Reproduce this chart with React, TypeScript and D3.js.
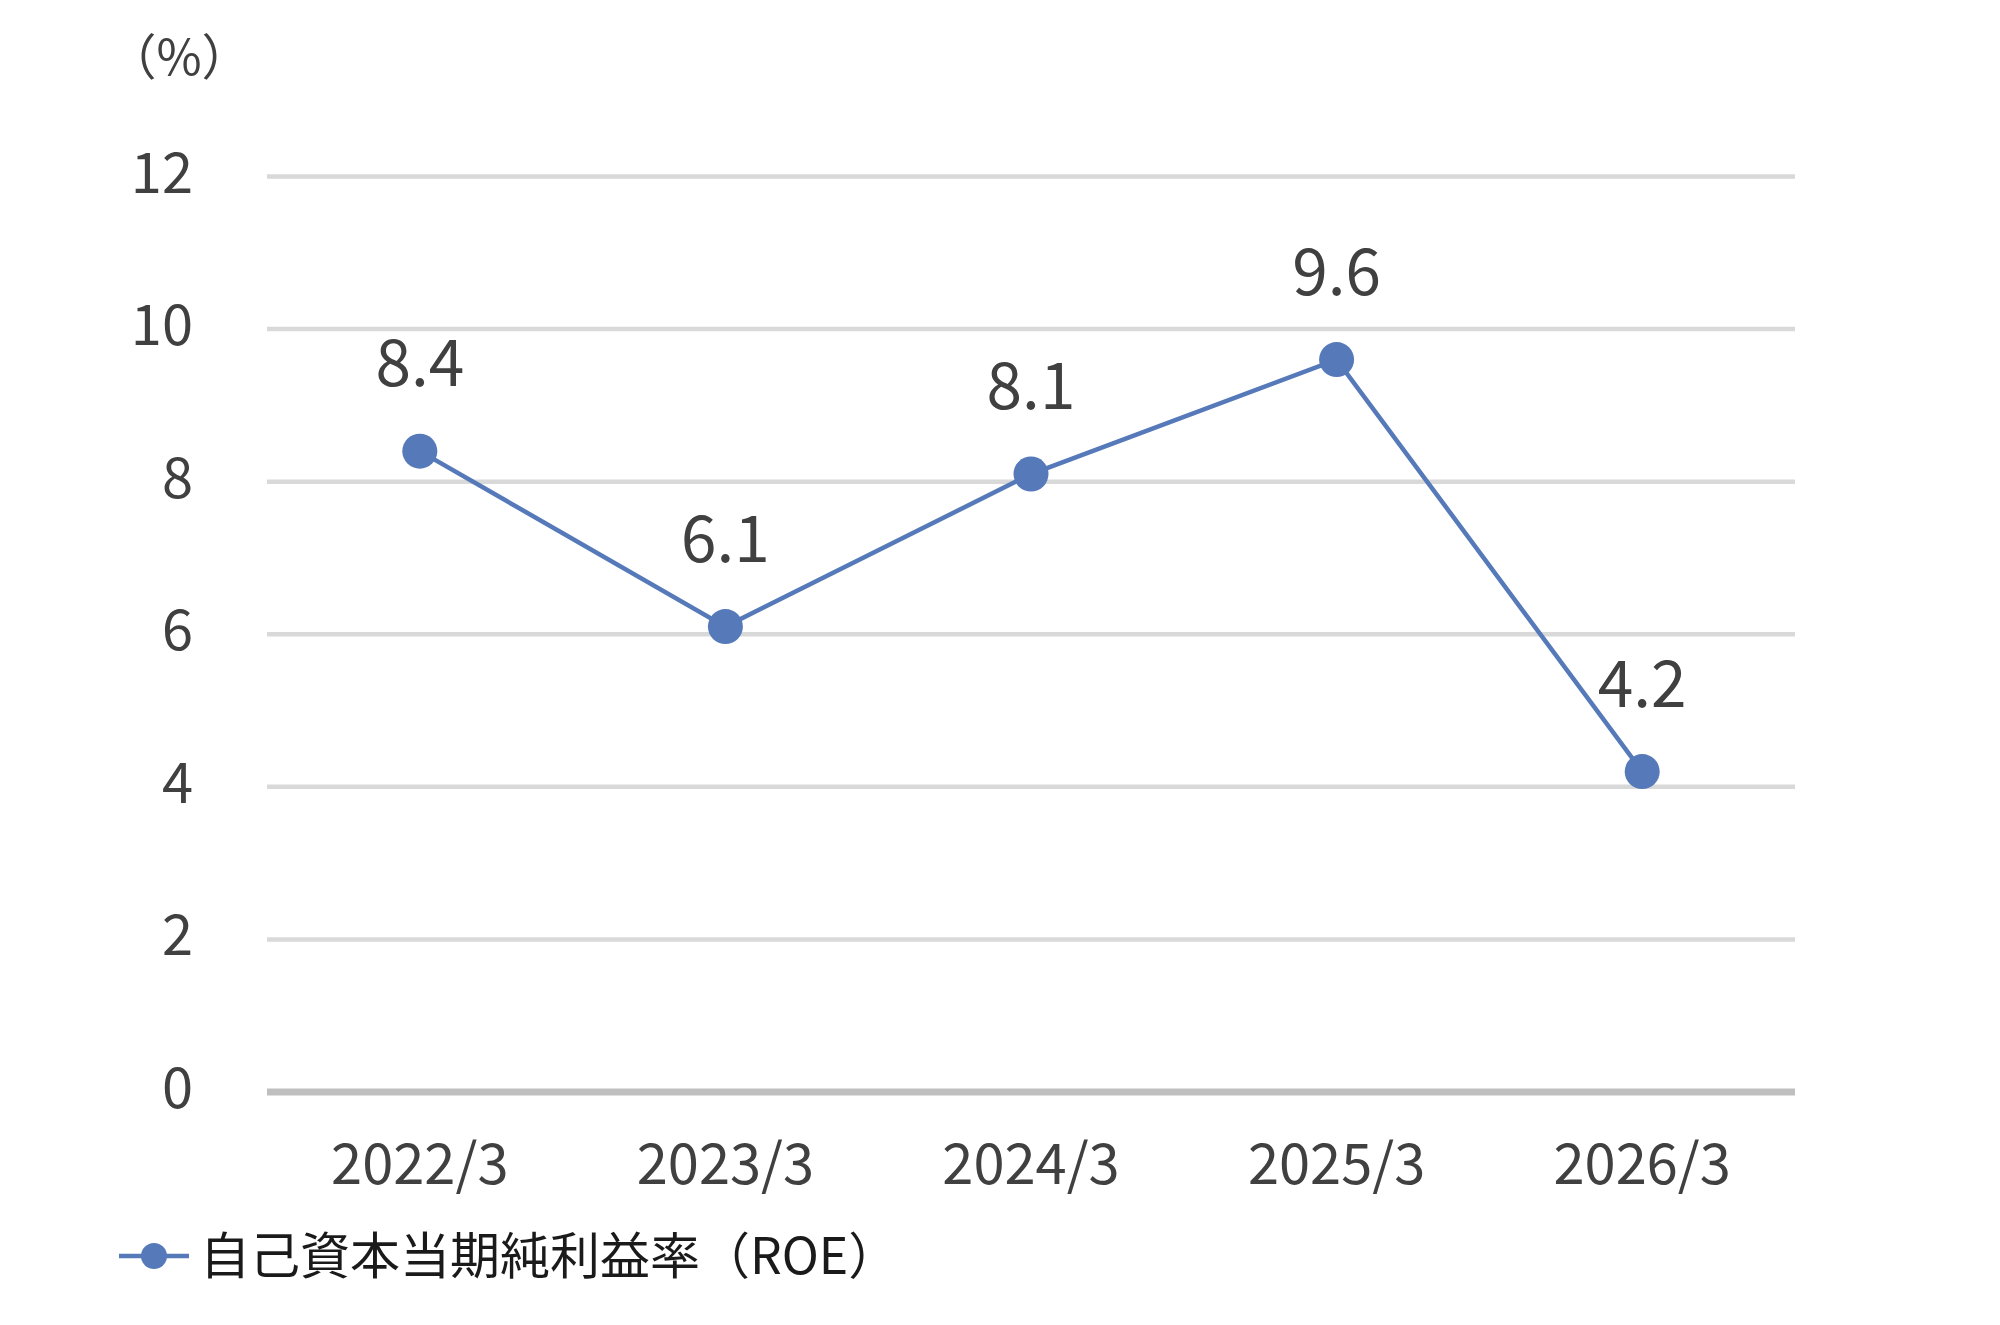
import React from "react";
import * as d3 from "d3";

const WIDTH = 2000;
const HEIGHT = 1325;

const categories = ["2022/3", "2023/3", "2024/3", "2025/3", "2026/3"];
const roeValues = [8.4, 6.1, 8.1, 9.6, 4.2];
const yTicks = [0, 2, 4, 6, 8, 10, 12];
const seriesName = "自己資本当期純利益率（ROE）";
const unitLabel = "（%）";

const BLUE = "#5579b9";
const TEXT = "#404040";
const FONT = "'Noto Sans CJK JP', 'Noto Sans', sans-serif";

export default function App() {
  const x = d3
    .scalePoint<string>()
    .domain(categories)
    .range([267, 1795])
    .padding(0.5);

  const y = d3.scaleLinear().domain([0, 12]).range([1092, 176.5]);

  const line = d3
    .line<number>()
    .x((d, i) => x(categories[i]) as number)
    .y((d) => y(d));

  return (
    <svg
      width={WIDTH}
      height={HEIGHT}
      style={{ position: "absolute", left: 0, top: 0, background: "#fff" }}
      fontFamily={FONT}
    >
      {/* unit label */}
      <text x={179} y={53} fontSize={49} fill={TEXT} textAnchor="middle" dominantBaseline="central">
        {unitLabel}
      </text>

      {/* gridlines + y tick labels */}
      {yTicks.map((t) => (
        <g key={t}>
          <line
            x1={267}
            x2={1795}
            y1={y(t)}
            y2={y(t)}
            stroke={t === 0 ? "#bfbfbf" : "#d9d9d9"}
            strokeWidth={t === 0 ? 7 : 4.5}
          />
          <text x={193} y={y(t) + 16} fontSize={56} fill={TEXT} textAnchor="end">
            {t}
          </text>
        </g>
      ))}

      {/* x labels */}
      {categories.map((c) => (
        <text key={c} x={x(c)} y={1184} fontSize={56} fill={TEXT} textAnchor="middle">
          {c}
        </text>
      ))}

      {/* series */}
      <path d={line(roeValues) || ""} fill="none" stroke={BLUE} strokeWidth={4.5} />
      {roeValues.map((v, i) => (
        <g key={i}>
          <circle cx={x(categories[i])} cy={y(v)} r={17.5} fill={BLUE} />
          <text x={x(categories[i])} y={y(v) - 65} fontSize={64} fill={TEXT} textAnchor="middle">
            {v.toFixed(1)}
          </text>
        </g>
      ))}

      {/* legend */}
      <line x1={119} x2={189} y1={1256} y2={1256} stroke={BLUE} strokeWidth={4.5} />
      <circle cx={154} cy={1256} r={13} fill={BLUE} />
      <text x={200} y={1252} fontSize={50} fill="#1a1a1a" dominantBaseline="central">
        {seriesName}
      </text>
    </svg>
  );
}
